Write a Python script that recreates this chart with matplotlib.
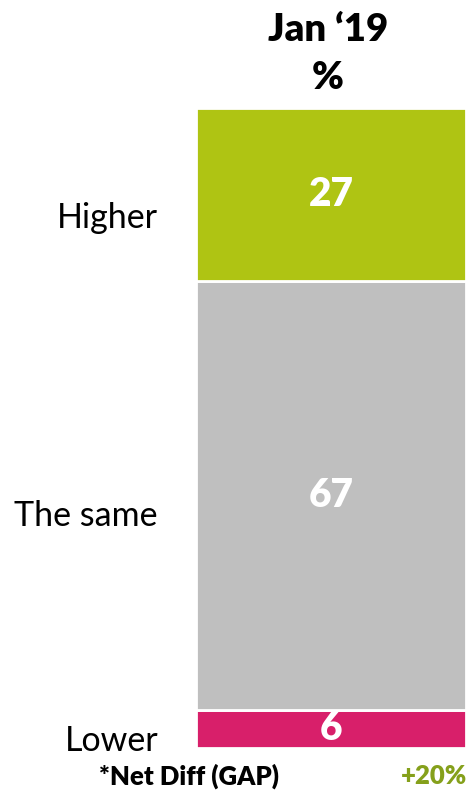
import matplotlib.pyplot as plt

plt.rcParams["font.family"] = ["Lato", "DejaVu Sans"]

categories = ["Lower", "The same", "Higher"]
values = [6, 67, 27]
colors = ["#D81F6A", "#BFBFBF", "#AFC413"]
period_label = "Jan \u201819"
net_label = "*Net Diff (GAP)"
net_value = "+20%"

W, H = 472, 792
fig = plt.figure(figsize=(W / 100, H / 100), dpi=100)
ax = fig.add_axes([196 / W, 1 - 748 / H, 270 / W, 640 / H])

bottom = 0
for cat, val, col in zip(categories, values, colors):
    ax.bar(0, val, bottom=bottom, width=1, color=col, edgecolor="white", linewidth=2)
    ax.text(0, bottom + val / 2, f"{val}", ha="center", va="center",
            color="white", fontsize=28, fontweight="heavy")
    bottom += val

ax.set_xlim(-0.5, 0.5)
ax.set_ylim(0, sum(values))
ax.axis("off")

# category labels sit to the left of the bar
label_y = {"Higher": 218, "The same": 516, "Lower": 741}
for cat, y in label_y.items():
    fig.text(158 / W, 1 - y / H, cat, ha="right", va="center", fontsize=24.5)

fig.text(328 / W, 1 - 30 / H, period_label, ha="center", va="center",
         fontsize=27.5, fontweight="heavy")
fig.text(328 / W, 1 - 78 / H, "%", ha="center", va="center",
         fontsize=27.5, fontweight="heavy")

fig.text(189 / W, 1 - 776 / H, net_label, ha="center", va="center",
         fontsize=18.5, fontweight="heavy")
fig.text(467 / W, 1 - 776 / H, net_value, ha="right", va="center",
         fontsize=18.5, fontweight="heavy", color="#85A01B")

fig.savefig("out.png", dpi=100, facecolor="white")
